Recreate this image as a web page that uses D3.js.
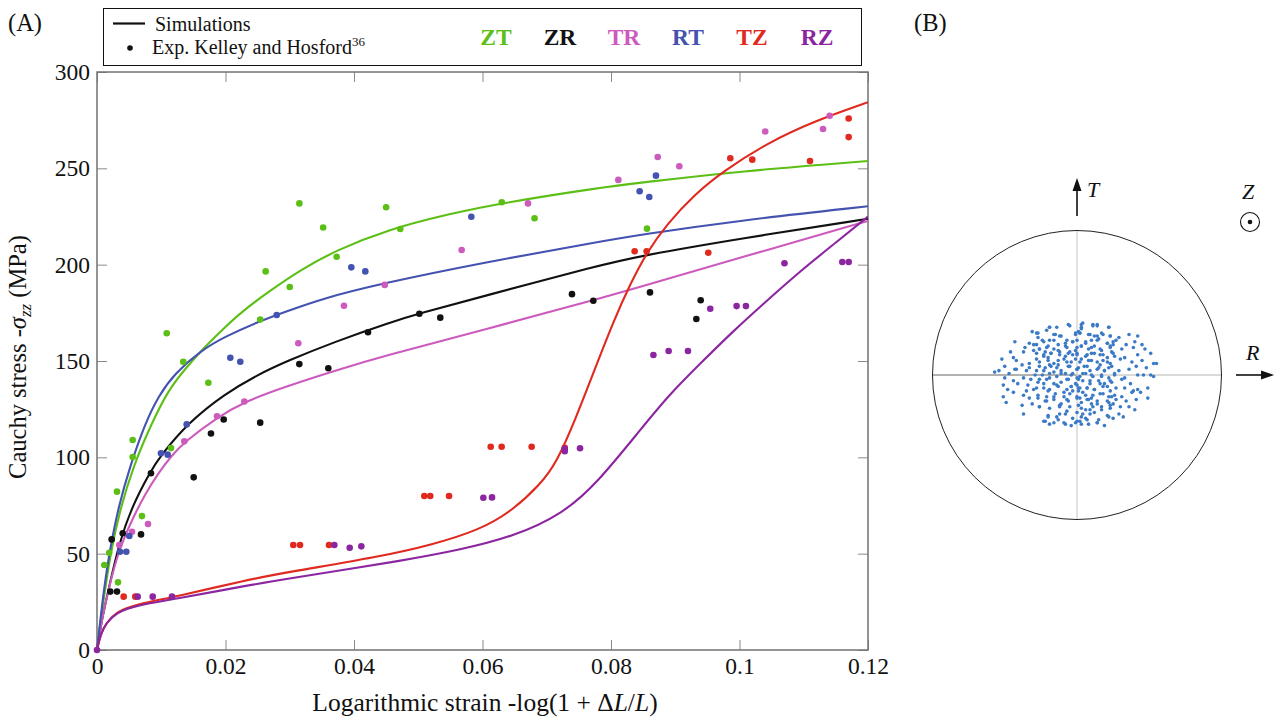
<!DOCTYPE html>
<html>
<head>
<meta charset="utf-8">
<script src="https://cdn.jsdelivr.net/npm/d3@7"></script>
<style>
  html, body { margin: 0; padding: 0; background: #fff; }
  svg { display: block; }
  text { font-family: "Liberation Serif", "DejaVu Serif", serif; }
</style>
</head>
<body>
<svg id="fig" width="1280" height="718"></svg>
<script>
// ---- Simulated stress-strain curves (strain, MPa) ----
const simZT = [[0,0],[0.0005,14],[0.0012,30],[0.0021,50],[0.0035,72],[0.0057,96],[0.0085,117.6],[0.0111,135],[0.014,147],[0.0168,157.4],[0.0199,167.5],[0.0225,175.5],[0.0267,186],[0.032,198],[0.0373,207.5],[0.045,218],[0.055,226.5],[0.063,232],[0.0783,240],[0.0845,242.5],[0.10,248.5],[0.12,253.8]];
const simZR = [[0,0],[0.0007,15],[0.0019,33],[0.0034,55],[0.0055,75],[0.0083,92.5],[0.0097,100],[0.0142,118],[0.0199,133],[0.0251,143],[0.0293,149.6],[0.037,160],[0.0456,170],[0.050,174.5],[0.06,183.5],[0.0783,199.8],[0.0845,204.5],[0.10,213.5],[0.12,223.8]];
const simTR = [[0,0],[0.0007,15],[0.0019,33],[0.0034,52],[0.0055,68],[0.0075,81],[0.0095,91.5],[0.0115,100.5],[0.0137,108.2],[0.0186,120.5],[0.023,129],[0.0293,136.7],[0.037,145],[0.0445,152.5],[0.06,166],[0.0783,182.5],[0.0845,188.5],[0.10,203.5],[0.12,222.7]];
const simRT = [[0,0],[0.0005,15],[0.0011,32],[0.0019,50],[0.0033,74],[0.0052,96],[0.0075,117.6],[0.0095,131.5],[0.0121,143.6],[0.0163,155.7],[0.0199,162.6],[0.0251,170.4],[0.0293,175.5],[0.0352,182.5],[0.044,190],[0.06,201],[0.0783,212],[0.0845,215.5],[0.10,223],[0.12,230.3]];
const simTZ = [[0,0],[0.0006,8.6],[0.0014,13.8],[0.003,19.9],[0.0061,23.7],[0.0123,27.7],[0.0232,36.3],[0.030,40.6],[0.044,48.4],[0.052,54.5],[0.0596,62.3],[0.0648,72.7],[0.069,86],[0.0715,97],[0.0745,120],[0.0775,146],[0.0805,171.5],[0.083,190],[0.0856,206.5],[0.0887,221],[0.093,236.5],[0.0975,248.5],[0.1042,263],[0.112,275],[0.12,284.3]];
const simRZ = [[0,0],[0.0006,8.6],[0.0014,13.8],[0.003,19.5],[0.0061,23.2],[0.0123,26.5],[0.0232,33.4],[0.030,37.2],[0.0482,46.7],[0.0565,52],[0.0648,58.8],[0.0726,70.9],[0.0778,86.5],[0.0845,114],[0.0889,132],[0.094,149],[0.099,165.5],[0.1045,182],[0.1094,196.5],[0.115,211.5],[0.12,225]];

// ---- Experimental points, Kelley and Hosford (strain, MPa) ----
const expZT = [[0.00114,44.1],[0.0019,50.5],[0.00327,35.1],[0.00311,82.2],[0.00555,100.2],[0.00555,109],[0.007,69.5],[0.01152,104.8],[0.01085,164.4],[0.01343,149.6],[0.01733,138.7],[0.0254,171.5],[0.02625,196.5],[0.03,188.4],[0.0315,231.8],[0.0352,219.3],[0.0373,204.1],[0.045,229.8],[0.0472,218.5],[0.063,232.4],[0.0681,224.1],[0.0856,218.7]];
const expZR = [[0.00207,30.3],[0.00311,30.3],[0.00228,57.4],[0.004,60.6],[0.00685,60],[0.0084,91.7],[0.01505,89.6],[0.01774,112.4],[0.01972,119.6],[0.0254,118],[0.03149,148.4],[0.036,146.2],[0.04218,164.9],[0.05017,174.5],[0.05343,172.5],[0.07393,184.7],[0.07725,181.3],[0.08607,185.6],[0.09396,181.5],[0.09328,171.8]];
const expTR = [[0.00347,54.5],[0.00545,61.4],[0.00794,65.4],[0.01359,108.3],[0.01868,121.3],[0.02293,129],[0.03133,159.2],[0.03844,178.7],[0.04478,189.5],[0.05676,207.6],[0.06708,231.8],[0.08114,244],[0.08727,255.9],[0.09063,251.1],[0.104,269.1],[0.113,270.4],[0.11404,277.3]];
const expRT = [[0.00358,51],[0.00456,51],[0.00503,59.2],[0.00996,102.1],[0.011,101.4],[0.01396,117.1],[0.02075,151.7],[0.0223,149.6],[0.02797,173.9],[0.03958,198.6],[0.04176,196.5],[0.05826,224.9],[0.08446,238.1],[0.08596,235.1],[0.087,246.2]];
const expTZ = [[0.00415,27.7],[0.00596,27.7],[0.03055,54.5],[0.0316,54.5],[0.03611,54.5],[0.05094,79.9],[0.05187,79.9],[0.05479,79.9],[0.06128,105.5],[0.06298,105.5],[0.06765,105.5],[0.0728,104.9],[0.08368,207],[0.08555,206.9],[0.09514,206.2],[0.09857,255.2],[0.10199,254.5],[0.11097,253.8],[0.11699,275.9],[0.11699,266.2]];
const expRZ = [[0,0],[0.00633,27.7],[0.00867,27.7],[0.01167,27.7],[0.03694,54.5],[0.03933,53.1],[0.04114,53.8],[0.06013,79],[0.06148,79.2],[0.0728,104.4],[0.0728,103.2],[0.07518,104.7],[0.0866,153.1],[0.08897,155.2],[0.09198,155.2],[0.09545,177.1],[0.09955,178.5],[0.101,178.5],[0.107,200.7],[0.116,201.4],[0.117,201.4]];

const seriesNames = ["ZT","ZR","TR","RT","TZ","RZ"];
const seriesColors = ["#5cbf16","#111111","#cc5bbd","#4452b0","#e0291f","#8c26a0"];
const simSets = [simZT, simZR, simTR, simRT, simTZ, simRZ];
const expSets = [expZT, expZR, expTR, expRT, expTZ, expRZ];

// ---- Axis ticks ----
const xTicks = [0, 0.02, 0.04, 0.06, 0.08, 0.1, 0.12];
const xTickLabels = ["0","0.02","0.04","0.06","0.08","0.1","0.12"];
const yTicks = [0, 50, 100, 150, 200, 250, 300];
const yTickLabels = ["0","50","100","150","200","250","300"];

// ---- Pole figure (B): projected grain orientations, % of circle radius (R, T) ----
const poleRT = [
[-19,33],[-5,34],[1,30],[-31,30],[-28,29],[-16,28],[-12,27],[-27,26],[-1,29],[-43,23],[-33,22],[-23,23],[-19,24],[-7,24],[-3,23],[-13,21],
[-36,19],[-30,21],[-26,18],[-21,19],[-16,18],[-8,20],[0,19],[-46,16],[-37,16],[-30,17],[-12,16],[-5,16],[-18,15],[-23,14],[-8,13],[-3,14],
[-52,11],[-42,10],[-44,12],[-28,11],[-20,12],[-13,10],[-7,9],[-1,11],[-33,8],[-50,6],[-38,7],[-33,5],[-26,6],[-19,7],[-14,5],[-5,6],[0,4],
[-42,4],[-57,2],[-54,3],[-47,1],[-43,4],[-35,3],[-23,3],[-16,2],[-11,1],[-4,0],[-29,0],[-50,-2],[-44,-4],[-37,-2],[-32,-3],[-26,-3],[-19,-2],
[-7,-3],[0,-2],[-51,-7],[-41,-6],[-34,-7],[-23,-6],[-14,-7],[-4,-8],[1,-9],[-28,-9],[-48,-10],[-44,-12],[-35,-11],[-30,-10],[-20,-11],[-9,-12],
[-3,-11],[-37,-14],[-51,-15],[-33,-16],[-27,-16],[-16,-15],[-7,-17],[0,-16],[-21,-18],[-49,-19],[-38,-21],[-31,-20],[-12,-21],[-5,-22],[-26,-22],
[-37,-27],[-20,-29],[-12,-27],[-7,-25],[0,-26],[-22,-32],[-13,-31],[-8,-34],[-1,-33],[-19,-34],
[4,36],[3,33],[11,35],[14,34],[22,33],[2,29],[9,28],[12,27],[17,29],[23,27],[29,26],[36,28],[42,27],[0,24],[6,23],[14,24],[21,22],[27,24],
[34,21],[40,23],[45,21],[25,21],[3,20],[10,19],[16,18],[23,20],[31,18],[39,19],[47,18],[0,15],[7,14],[12,15],[18,14],[26,13],[33,12],[42,14],
[51,15],[24,16],[3,11],[10,10],[21,9],[30,11],[38,9],[45,10],[53,8],[55,8],[16,7],[1,5],[7,6],[14,4],[22,5],[29,3],[36,4],[41,6],[48,5],[19,3],
[4,1],[10,0],[26,0],[33,-2],[42,0],[46,0],[51,0],[53,-1],[17,-1],[1,-3],[9,-4],[16,-6],[23,-4],[31,-3],[37,-6],[0,-7],[2,-9],[7,-9],[12,-10],
[21,-8],[27,-9],[33,-9],[42,-10],[49,-9],[39,-11],[4,-12],[11,-14],[18,-13],[24,-15],[31,-15],[38,-12],[44,-12],[2,-16],[7,-17],[14,-18],[22,-19],
[27,-17],[34,-18],[41,-17],[49,-16],[10,-20],[3,-23],[9,-24],[17,-22],[23,-21],[30,-22],[36,-22],[40,-24],[4,-27],[12,-26],[22,-29],[29,-27],
[32,-29],[6,-30],[0,-32],[7,-31],[14,-33],[3,-34],
// central, densest part of the cloud
[-19,33],[-14,33],[-6,35],[3,35],[11,34],[14,35],[22,33],[3,32],[-27,29],[-15,28],[-11,27],[-1,28],[2,29],[8,28],[14,27],[18,28],[23,27],[-21,31],
[-24,24],[-16,24],[-8,22],[-3,23],[6,22],[10,24],[15,25],[21,22],[25,23],[-28,21],[-26,18],[-20,20],[-13,17],[-7,19],[-1,17],[3,20],[8,18],[12,20],
[17,17],[23,19],[-22,16],[-28,15],[-23,13],[-18,15],[-12,14],[-6,15],[0,14],[6,13],[10,15],[16,14],[21,12],[25,15],[-26,9],[-20,10],[-16,8],[-9,11],
[-4,9],[2,9],[8,10],[14,9],[18,10],[23,8],[-13,7],[-22,5],[-18,6],[-11,3],[-6,6],[0,4],[5,6],[9,3],[15,5],[19,3],[24,6],[-28,3],[-24,0],[-19,1],
[-14,-1],[-8,1],[-3,1],[2,-1],[6,1],[11,-1],[17,0],[22,-2],[26,1],[-27,-5],[-21,-3],[-16,-6],[-11,-5],[-6,-3],[-1,-6],[4,-4],[9,-6],[15,-4],[19,-6],
[24,-5],[-23,-9],[-19,-10],[-13,-8],[-7,-10],[-4,-8],[1,-11],[7,-9],[12,-10],[18,-8],[23,-11],[-27,-14],[-21,-15],[-15,-13],[-9,-15],[-5,-13],[0,-15],
[6,-14],[10,-16],[16,-13],[22,-15],[26,-14],[-22,-18],[-16,-17],[-11,-20],[-6,-18],[3,-19],[8,-17],[14,-20],[21,-18],[25,-20],[-26,-22],[-19,-23],
[-12,-22],[1,-21],[6,-24],[11,-22],[17,-24],[23,-23],[-20,-28],[-14,-29],[-8,-27],[-3,-30],[3,-29],[9,-27],[15,-31],[21,-28],[25,-30],[-23,-32],
[-16,-33],[-9,-33],[-4,-35],[2,-32],[8,-34],[14,-33],[19,-35]
];

const svg = d3.select("#fig");

// ===================== Panel (A) =====================
const x = d3.scaleLinear().domain([0, 0.12]).range([97, 868]);
const y = d3.scaleLinear().domain([0, 300]).range([650, 72]);

const axisColor = "#727272";
const tickLen = 10;
const tickFont = 23.5;

function styleAxis(g) {
  g.select(".domain").remove();
  g.selectAll(".tick line").attr("stroke", "#8a8a8a").attr("stroke-width", 1);
}

const fmtX = v => xTickLabels[xTicks.indexOf(v)];
const fmtY = v => yTickLabels[yTicks.indexOf(v)];

svg.append("g").attr("transform", "translate(0,650)")
  .call(d3.axisBottom(x).tickValues(xTicks).tickFormat(fmtX).tickSize(-tickLen))
  .call(styleAxis)
  .call(g => g.selectAll(".tick text").attr("fill", "#111").attr("font-size", tickFont)
    .attr("font-family", "'Liberation Serif', serif").attr("y", 23.5).attr("dy", null));

svg.append("g").attr("transform", "translate(0,72)")
  .call(d3.axisTop(x).tickValues(xTicks).tickFormat("").tickSize(-tickLen))
  .call(styleAxis);

svg.append("g").attr("transform", "translate(97,0)")
  .call(d3.axisLeft(y).tickValues(yTicks).tickFormat(fmtY).tickSize(-tickLen).tickPadding(7))
  .call(styleAxis)
  .call(g => g.selectAll(".tick text").attr("fill", "#111").attr("font-size", tickFont)
    .attr("font-family", "'Liberation Serif', serif"));

svg.append("g").attr("transform", "translate(868,0)")
  .call(d3.axisRight(y).tickValues(yTicks).tickFormat("").tickSize(-tickLen))
  .call(styleAxis);

// plot frame
svg.append("rect")
  .attr("x", x(0)).attr("y", y(300))
  .attr("width", x(0.12) - x(0)).attr("height", y(0) - y(300))
  .attr("fill", "none").attr("stroke", axisColor).attr("stroke-width", 1.5);

// clip for curves
svg.append("clipPath").attr("id", "plotClip").append("rect")
  .attr("x", x(0) - 5).attr("y", y(300)).attr("width", x(0.12) - x(0) + 5).attr("height", y(0) - y(300) + 5);

const line = d3.line().x(d => x(d[0])).y(d => y(d[1])).curve(d3.curveBasis);

const curves = svg.append("g").attr("clip-path", "url(#plotClip)");
simSets.forEach((s, i) => {
  curves.append("path").datum(s)
    .attr("d", line)
    .attr("fill", "none")
    .attr("stroke", seriesColors[i])
    .attr("stroke-width", 2.1)
    .attr("stroke-linejoin", "round");
});

const dots = svg.append("g");
expSets.forEach((s, i) => {
  dots.selectAll(null).data(s).enter().append("circle")
    .attr("cx", d => x(d[0])).attr("cy", d => y(d[1]))
    .attr("r", 3.3)
    .attr("fill", seriesColors[i]);
});

// axis titles
const yTitle = svg.append("text")
  .attr("transform", "translate(26,357) rotate(-90)")
  .attr("text-anchor", "middle")
  .attr("font-size", 24.5).attr("fill", "#111");
yTitle.append("tspan").text("Cauchy stress -");
yTitle.append("tspan").attr("font-style", "italic").text("σ");
yTitle.append("tspan").attr("font-style", "italic").attr("font-size", 17).attr("dy", 5).text("zz");
yTitle.append("tspan").attr("dy", -5).text(" (MPa)");

const xTitle = svg.append("text")
  .attr("x", 485).attr("y", 711)
  .attr("text-anchor", "middle")
  .attr("font-size", 25.5).attr("fill", "#111");
xTitle.append("tspan").text("Logarithmic strain -log(1 + Δ");
xTitle.append("tspan").attr("font-style", "italic").text("L");
xTitle.append("tspan").text("/");
xTitle.append("tspan").attr("font-style", "italic").text("L");
xTitle.append("tspan").text(")");

// panel labels
svg.append("text").attr("x", 8).attr("y", 31).attr("font-size", 24.5).attr("fill", "#111").text("(A)");
svg.append("text").attr("x", 914).attr("y", 31).attr("font-size", 24.5).attr("fill", "#111").text("(B)");

// legend
const lg = svg.append("g");
lg.append("rect").attr("x", 103.5).attr("y", 8.5).attr("width", 758).attr("height", 57)
  .attr("fill", "#fff").attr("stroke", "#111").attr("stroke-width", 1);
lg.append("line").attr("x1", 113).attr("x2", 145).attr("y1", 23.5).attr("y2", 23.5)
  .attr("stroke", "#111").attr("stroke-width", 2.2);
lg.append("text").attr("x", 155).attr("y", 31).attr("font-size", 20).attr("fill", "#111").text("Simulations");
lg.append("circle").attr("cx", 130).attr("cy", 48).attr("r", 2.8).attr("fill", "#111");
const expLabel = lg.append("text").attr("x", 152).attr("y", 54).attr("font-size", 20).attr("fill", "#111");
expLabel.append("tspan").text("Exp. Kelley and Hosford");
expLabel.append("tspan").attr("font-size", 13).attr("dy", -8).text("36");

const legendCenters = [496, 560, 624, 688, 752, 817];
seriesNames.forEach((n, i) => {
  lg.append("text").attr("x", legendCenters[i]).attr("y", 45)
    .attr("text-anchor", "middle").attr("font-size", 23.5).attr("font-weight", "bold")
    .attr("fill", seriesColors[i]).text(n);
});

// ===================== Panel (B) =====================
const cx = 1077, cy = 375, rad = 144.5;
const pu = d3.scaleLinear().domain([-100, 100]).range([cx - rad, cx + rad]);
const pv = d3.scaleLinear().domain([-100, 100]).range([cy + rad, cy - rad]);

const pb = svg.append("g");
pb.append("line").attr("x1", pu(-100)).attr("x2", pu(100)).attr("y1", pv(0)).attr("y2", pv(0))
  .attr("stroke", "#b4b4b4").attr("stroke-width", 1);
pb.append("line").attr("x1", pu(-100)).attr("x2", pu(0)).attr("y1", pv(0)).attr("y2", pv(0))
  .attr("stroke", "#8a8a8a").attr("stroke-width", 1);
pb.append("line").attr("x1", pu(0)).attr("x2", pu(0)).attr("y1", pv(100)).attr("y2", pv(-100))
  .attr("stroke", "#c4c4c4").attr("stroke-width", 1);
pb.append("circle").attr("cx", cx).attr("cy", cy).attr("r", rad)
  .attr("fill", "none").attr("stroke", "#222").attr("stroke-width", 1);

pb.selectAll(null).data(poleRT).enter().append("circle")
  .attr("cx", d => pu(d[0])).attr("cy", d => pv(d[1]))
  .attr("r", 1.8).attr("fill", "#3b7bc6");

// T direction arrow
pb.append("line").attr("x1", cx).attr("x2", cx).attr("y1", 216).attr("y2", 188)
  .attr("stroke", "#111").attr("stroke-width", 1.6);
pb.append("path").attr("d", `M${cx},178 L${cx - 4.5},191 L${cx + 4.5},191 Z`).attr("fill", "#111");
svg.append("text").attr("x", 1087).attr("y", 197).attr("font-size", 22).attr("font-style", "italic")
  .attr("fill", "#111").text("T");

// R direction arrow
pb.append("line").attr("x1", 1236).attr("x2", 1262).attr("y1", cy).attr("y2", cy)
  .attr("stroke", "#111").attr("stroke-width", 1.6);
pb.append("path").attr("d", `M1274,${cy} L1261,${cy - 4.5} L1261,${cy + 4.5} Z`).attr("fill", "#111");
svg.append("text").attr("x", 1246).attr("y", 360).attr("font-size", 22).attr("font-style", "italic")
  .attr("fill", "#111").text("R");

// Z direction (out of plane)
svg.append("text").attr("x", 1242).attr("y", 199).attr("font-size", 22).attr("font-style", "italic")
  .attr("fill", "#111").text("Z");
pb.append("circle").attr("cx", 1250).attr("cy", 222).attr("r", 9.5)
  .attr("fill", "none").attr("stroke", "#111").attr("stroke-width", 1.1);
pb.append("circle").attr("cx", 1250).attr("cy", 222).attr("r", 2.3).attr("fill", "#111");
</script>
</body>
</html>
